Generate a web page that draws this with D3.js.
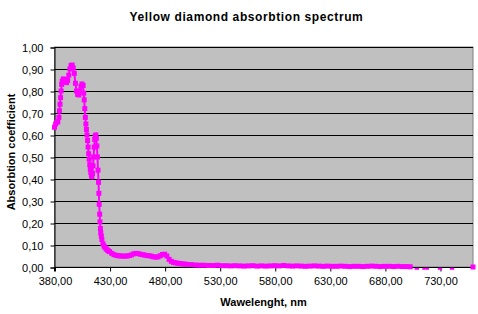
<!DOCTYPE html>
<html>
<head>
<meta charset="utf-8">
<script src="https://cdn.jsdelivr.net/npm/d3@7"></script>
<style>
  body { margin: 0; background: #fff; }
  text { font-family: "Liberation Sans", Arial, sans-serif; }
</style>
</head>
<body>
<svg width="478" height="314"></svg>
<script>
'use strict';

const wavelength = [
  380, 381, 382, 383, 384, 384.5, 385, 385.5, 386, 386.5, 387, 388, 389, 390, 391, 392,
  393, 394, 395, 396, 397, 398, 399, 400, 401, 402, 403, 404, 405, 406, 406.5, 407,
  407.5, 408, 408.5, 409, 409.5, 410, 410.5, 411, 411.5, 412, 412.5, 413, 413.5, 414,
  414.5, 415, 415.5, 416, 416.5, 417, 417.5, 418, 418.5, 419, 419.5, 420, 420.3, 420.6,
  421, 421.3, 421.7, 422, 422.5, 423, 424, 425, 426, 427, 428, 429, 430, 432, 434, 436,
  438, 440, 442, 444, 446, 448, 450, 452, 454, 456, 458, 460, 462, 464, 466, 468, 470,
  472, 474, 476, 478, 480, 482, 484, 486, 488, 490, 492, 494, 496, 498, 500, 504, 508,
  512, 516, 520, 524, 528, 532, 536, 540, 544, 548, 552, 556, 560, 564, 568, 572, 576,
  580, 584, 588, 592, 596, 600, 604, 608, 612, 616, 620, 624, 628, 632, 636, 640, 644,
  648, 652, 656, 660, 664, 668, 672, 676, 680, 684, 688, 692, 696, 700, 703
];

const absorption = [
  0.635, 0.650, 0.658, 0.660, 0.680, 0.710, 0.740, 0.770, 0.800, 0.830, 0.845, 0.855, 0.850, 0.852, 0.838, 0.848,
  0.872, 0.900, 0.915, 0.918, 0.905, 0.880, 0.835, 0.800, 0.785, 0.782, 0.800, 0.822, 0.832, 0.825, 0.790, 0.760,
  0.720, 0.680, 0.650, 0.625, 0.600, 0.575, 0.545, 0.515, 0.490, 0.465, 0.445, 0.430, 0.415, 0.410,
  0.425, 0.460, 0.500, 0.545, 0.580, 0.595, 0.600, 0.585, 0.550, 0.500, 0.440, 0.385, 0.335, 0.285,
  0.240, 0.205, 0.175, 0.155, 0.140, 0.125, 0.105, 0.095, 0.088, 0.082, 0.077, 0.073, 0.070, 0.062, 0.056, 0.053,
  0.051, 0.050, 0.050, 0.049, 0.050, 0.052, 0.055, 0.060, 0.062, 0.061, 0.058, 0.056, 0.054, 0.052, 0.051, 0.049, 0.046,
  0.045, 0.046, 0.051, 0.057, 0.058, 0.050, 0.035, 0.026, 0.021, 0.019, 0.017, 0.016, 0.014, 0.013, 0.012, 0.011, 0.009,
  0.008, 0.008, 0.007, 0.007, 0.008, 0.006, 0.006, 0.005, 0.006, 0.005, 0.004, 0.005, 0.006, 0.004, 0.005, 0.004, 0.005,
  0.006, 0.005, 0.007, 0.005, 0.004, 0.005, 0.004, 0.003, 0.004, 0.005, 0.004, 0.003, 0.004, 0.003, 0.003, 0.004, 0.003,
  0.002, 0.003, 0.003, 0.002, 0.003, 0.004, 0.003, 0.002, 0.003, 0.003, 0.002, 0.003, 0.002, 0.002, 0.001
];

// short pieces of the tail that fall just under zero (no markers drawn there)
const tail_segments = [
  [[707, -0.008], [711, -0.008]],
  [[714, -0.008], [720, -0.008]],
  [[728, -0.008], [732, -0.008]],
  [[739, -0.008], [743, -0.008]]
];
const last_point = [760, 0];

const x_ticks = [380, 430, 480, 530, 580, 630, 680, 730];
const y_ticks = [0, 0.1, 0.2, 0.3, 0.4, 0.5, 0.6, 0.7, 0.8, 0.9, 1.0];

const svg = d3.select('svg');
const margin = { left: 54.5, right: 473, top: 47, bottom: 267 };
const fmt = d => d3.format('.2f')(d).replace('.', ',');

const x = d3.scaleLinear().domain([380, 760]).range([margin.left, margin.right]);
const y = d3.scaleLinear().domain([0, 1]).range([margin.bottom, margin.top]);

// plot area
svg.append('rect')
  .attr('x', margin.left).attr('y', margin.top)
  .attr('width', margin.right - margin.left)
  .attr('height', margin.bottom - margin.top)
  .attr('fill', '#c0c0c0')
  .attr('stroke', '#808080').attr('stroke-width', 1);

// grid lines
svg.append('g').selectAll('line').data(y_ticks.filter(d => d > 0)).join('line')
  .attr('x1', margin.left).attr('x2', margin.right)
  .attr('y1', d => Math.round(y(d)) + 0.5).attr('y2', d => Math.round(y(d)) + 0.5)
  .attr('stroke', '#000').attr('stroke-width', 1);

// axes
const yAxis = svg.append('g')
  .attr('transform', `translate(${margin.left},0.5)`)
  .call(d3.axisLeft(y).tickValues(y_ticks).tickFormat(fmt).tickSize(4).tickPadding(7));
const xAxis = svg.append('g')
  .attr('transform', `translate(0.5,${margin.bottom + 0.5})`)
  .call(d3.axisBottom(x).tickValues(x_ticks).tickFormat(fmt).tickSize(4).tickPadding(6));

for (const ax of [yAxis, xAxis]) {
  ax.select('.domain').attr('stroke', '#000');
  ax.selectAll('.tick line').attr('stroke', '#000');
  ax.selectAll('.tick text')
    .attr('font-family', '"Liberation Sans", Arial, sans-serif')
    .attr('font-size', 11).attr('fill', '#000');
}
xAxis.select('.domain').attr('d', `M${margin.left - 0.5},4V0H${margin.right}`);

// series
const points = wavelength.map((w, i) => [w, absorption[i]]);
const line = d3.line().x(d => x(d[0])).y(d => y(d[1]));
const magenta = '#ff00ff';

svg.append('path').datum(points)
  .attr('d', line).attr('fill', 'none')
  .attr('stroke', magenta).attr('stroke-width', 2);

svg.append('g').selectAll('path').data(tail_segments).join('path')
  .attr('d', line).attr('fill', 'none')
  .attr('stroke', magenta).attr('stroke-width', 2);

svg.append('g').selectAll('rect').data(points.concat([last_point])).join('rect')
  .attr('x', d => x(d[0]) - 2.5).attr('y', d => y(d[1]) - 2.5)
  .attr('width', 5).attr('height', 5)
  .attr('fill', magenta);

// titles
svg.append('text')
  .attr('x', 246.5).attr('y', 21)
  .attr('text-anchor', 'middle')
  .attr('font-size', 12).attr('font-weight', 'bold')
  .attr('letter-spacing', 0.6)
  .text('Yellow diamond absorbtion spectrum');

svg.append('text')
  .attr('x', 263.5).attr('y', 306)
  .attr('text-anchor', 'middle')
  .attr('font-size', 11).attr('font-weight', 'bold')
  .text('Wawelenght, nm');

svg.append('text')
  .attr('transform', 'translate(15,152) rotate(-90)')
  .attr('text-anchor', 'middle')
  .attr('font-size', 11).attr('font-weight', 'bold')
  .text('Absorbtion coefficient');
</script>
</body>
</html>
